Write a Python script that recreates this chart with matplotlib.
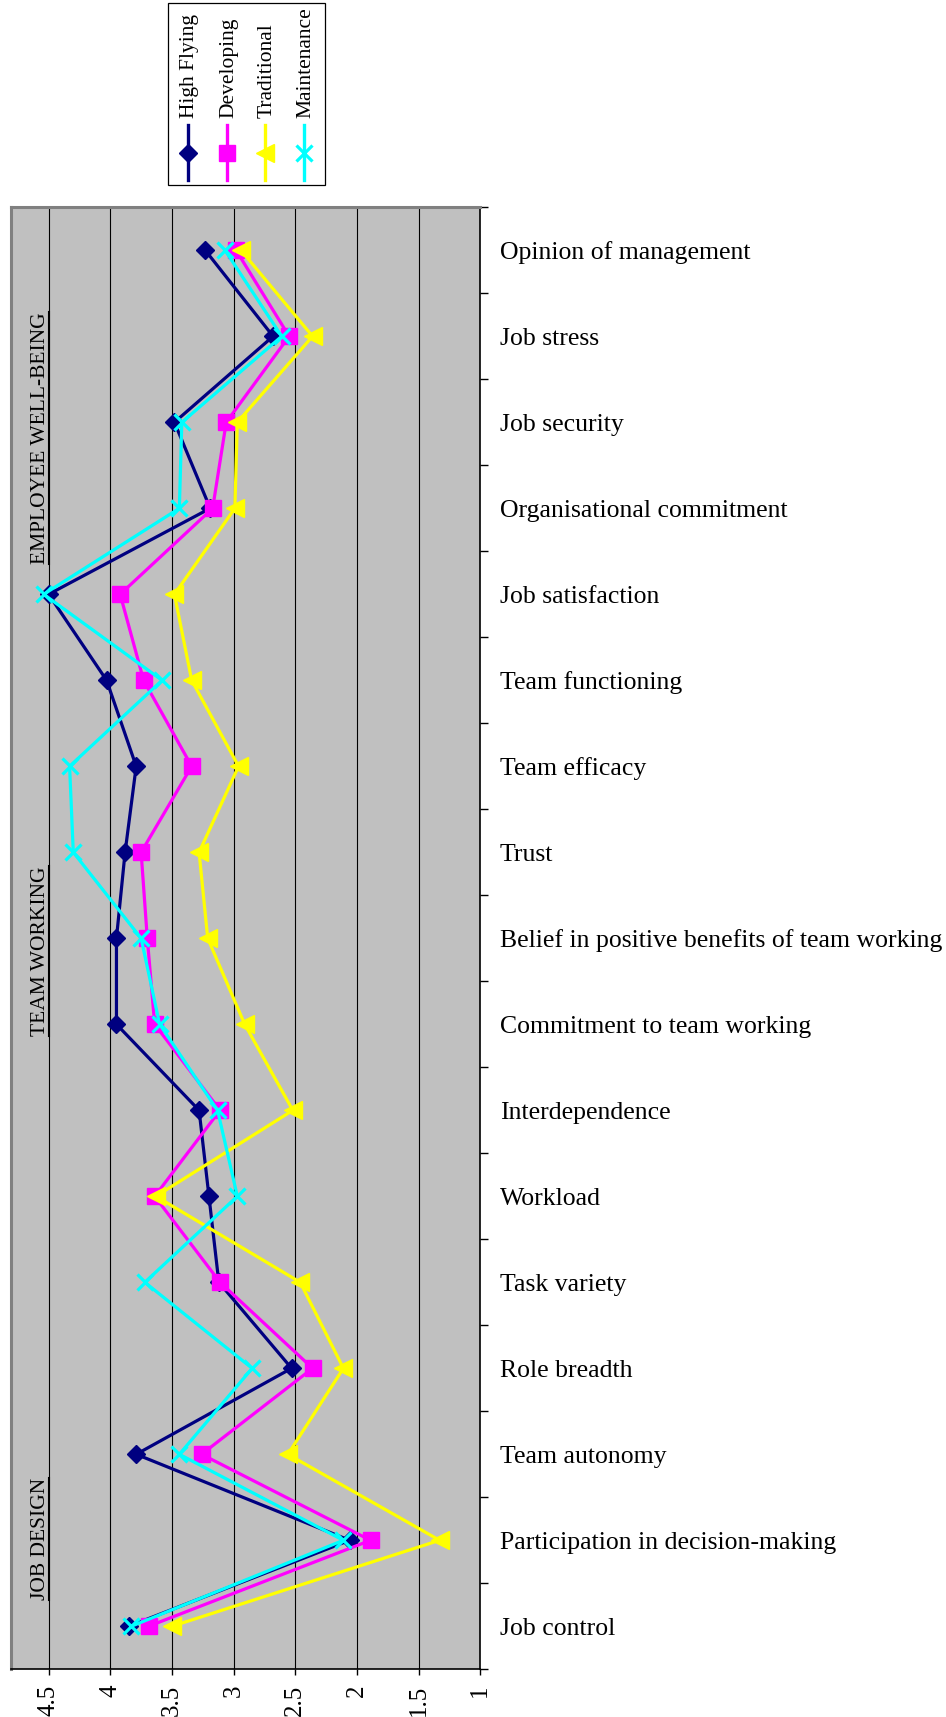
import matplotlib
matplotlib.use("Agg")
import matplotlib.pyplot as plt
from matplotlib.transforms import blended_transform_factory, IdentityTransform
from matplotlib.lines import Line2D
from matplotlib.patches import Rectangle
import numpy as np

plt.rcParams['font.family'] = ['Liberation Serif', 'DejaVu Serif']

categories = [
    "Opinion of management", "Job stress", "Job security", "Organisational commitment",
    "Job satisfaction", "Team functioning", "Team efficacy", "Trust",
    "Belief in positive benefits of team working", "Commitment to team working",
    "Interdependence", "Workload", "Task variety", "Role breadth", "Team autonomy",
    "Participation in decision-making", "Job control",
]
high_flying = [3.23, 2.68, 3.48, 3.19, 4.50, 4.03, 3.79, 3.88, 3.95, 3.95, 3.28, 3.20, 3.12, 2.53, 3.79, 2.06, 3.85]
developing  = [2.98, 2.55, 3.06, 3.17, 3.92, 3.73, 3.34, 3.75, 3.70, 3.64, 3.11, 3.64, 3.11, 2.36, 3.26, 1.89, 3.69]
traditional = [2.94, 2.36, 2.97, 2.99, 3.48, 3.34, 2.96, 3.28, 3.21, 2.91, 2.52, 3.63, 2.46, 2.11, 2.56, 1.33, 3.50]
maintenance = [3.07, 2.61, 3.42, 3.44, 4.54, 3.58, 4.33, 4.30, 3.75, 3.60, 3.13, 2.97, 3.72, 2.85, 3.44, 2.11, 3.83]
series_names = ["High Flying", "Developing", "Traditional", "Maintenance"]
x_ticks = [4.5, 4, 3.5, 3, 2.5, 2, 1.5, 1]
x_tick_labels = ["4.5", "4", "3.5", "3", "2.5", "2", "1.5", "1"]
sections = ["EMPLOYEE WELL-BEING", "TEAM WORKING", "JOB DESIGN"]
section_pos = [13.82, 7.85, 1.02]

W, H = 946, 1717
fig = plt.figure(figsize=(W / 100, H / 100), dpi=100)

L, R, T, B = 11, 480.3, 207.3, 1669.3
ax = fig.add_axes([L / W, 1 - B / H, (R - L) / W, (B - T) / H])
ax.set_facecolor("#C0C0C0")

n = len(categories)
ypos = np.arange(n)[::-1]

styles = [
    dict(color="#000080", marker="D", ms=9, mec="#000080", mfc="#000080", mew=1),
    dict(color="#FF00FF", marker="s", ms=12, mec="#FF00FF", mfc="#FF00FF", mew=1),
    dict(color="#FFFF00", marker="<", ms=13, mec="#FFFF00", mfc="#FFFF00", mew=1),
    dict(color="#00FFFF", marker="x", ms=12, mec="#00FFFF", mew=2.3),
]
data = [high_flying, developing, traditional, maintenance]
for vals, st in zip(data, styles):
    ax.plot(vals, ypos, lw=2.3, zorder=3, **st)

ax.set_xlim(4.805, 1.0)
ax.set_ylim(-0.5, n - 0.5)

ax.set_xticks(x_ticks)
ax.set_xticklabels(x_tick_labels, rotation=90, fontsize=18, family="Liberation Serif")
ax.tick_params(axis="x", direction="out", length=4, width=1, color="black", pad=7)
ax.grid(axis="x", color="black", lw=0.8, zorder=1)
ax.set_axisbelow(True)

ax.yaxis.tick_right()
ax.set_yticks(np.arange(n))
ax.set_yticklabels(categories[::-1], fontsize=18.5, family="Liberation Serif")
ax.set_yticks(np.arange(-0.5, n), minor=True)
ax.tick_params(axis="y", which="major", length=0, pad=14)
ax.tick_params(axis="y", which="minor", direction="out", length=6, width=1, color="black")

for s in ["left", "top"]:
    ax.spines[s].set_color("#808080")
    ax.spines[s].set_linewidth(2.2)
for s in ["right", "bottom"]:
    ax.spines[s].set_color("black")
    ax.spines[s].set_linewidth(1.2)

tr = blended_transform_factory(ax.transAxes, ax.transData)
sec_texts = []
for name, yp in zip(sections, section_pos):
    t = ax.text(0.062, yp, name, transform=tr, rotation=90, ha="center", va="center",
                fontsize=15.5, color="black", zorder=5)
    sec_texts.append(t)

# Legend (drawn manually, rotated)
lax = fig.add_axes([0, 0, 1, 1], zorder=10)
lax.set_xlim(0, W)
lax.set_ylim(H, 0)
lax.axis("off")
lax.add_patch(Rectangle((168.3, 3), 156.7, 182, fill=True, facecolor="white",
                        edgecolor="black", lw=0.9))
leg_x = [187.7, 226.7, 265.0, 304.0]
for name, lx, st in zip(series_names, leg_x, styles):
    lax.plot([lx, lx], [125, 180], lw=2.4, color=st["color"])
    mst = dict(st)
    mst.pop("color")
    lax.plot([lx], [153], color=st["color"], **mst)
    lax.text(lx + 2, 118, name, rotation=90, ha="center", va="bottom", fontsize=15.5, color="black")

fig.canvas.draw()
for t in sec_texts:
    bb = t.get_window_extent()
    fig.add_artist(Line2D([bb.x1 - 1, bb.x1 - 1], [bb.y0, bb.y1], transform=IdentityTransform(),
                          color="black", lw=1.5))

fig.savefig("out.png", dpi=100, facecolor="white")
